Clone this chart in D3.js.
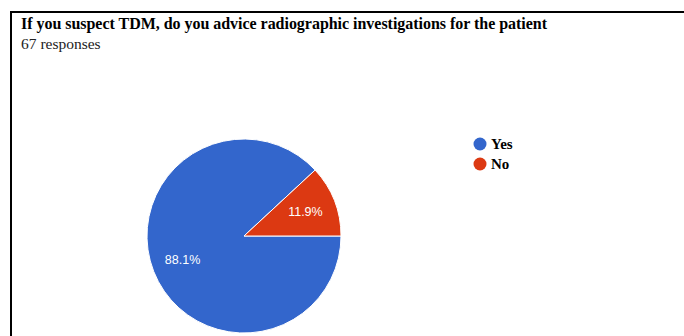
<!DOCTYPE html>
<html>
<head>
<meta charset="utf-8">
<script src="https://cdn.jsdelivr.net/npm/d3@7"></script>
<style>
body{margin:0;background:#fff;}
</style>
</head>
<body>
<script>
const w=684;
const h=336;

// chart data
const title="If you suspect TDM, do you advice radiographic investigations for the patient";
const subtitle="67 responses";
const categories=["Yes","No"];
const values=[88.1,11.9];
const colors=["#3366cc","#dc3912"];

let svg=d3.select("body")
  .append("svg")
  .attr("width",w)
  .attr("height",h);

svg.append("rect").attr("width",w).attr("height",h).attr("fill","#fff");

// frame (top + left edge)
svg.append("path")
  .attr("d","M11,"+h+"V12H"+w)
  .attr("fill","none")
  .attr("stroke","#000")
  .attr("stroke-width",2);

svg.append("text")
  .attr("x",21)
  .attr("y",29)
  .attr("textLength",526)
  .style("font-family","'Liberation Serif', serif")
  .style("font-weight","bold")
  .style("font-size","16px")
  .text(title);

svg.append("text")
  .attr("x",21)
  .attr("y",49)
  .style("font-family","'Liberation Serif', serif")
  .style("font-size","15.5px")
  .style("fill","#222")
  .text(subtitle);

// pie
const cx=244, cy=236, r=97;
let data=categories.map((c,i)=>({name:c,value:values[i]}));

let pie=d3.pie()
  .sort(null)
  .value(d=>d.value)
  .startAngle(Math.PI/2)
  .endAngle(Math.PI/2+2*Math.PI);

let arc=d3.arc().innerRadius(0).outerRadius(r);
let color=d3.scaleOrdinal().domain(categories).range(colors);

let g=svg.append("g").attr("transform","translate("+cx+","+cy+")");

let arcs=pie(data);

g.selectAll("path")
  .data(arcs)
  .enter()
  .append("path")
  .attr("d",arc)
  .attr("fill",d=>color(d.data.name))
  .attr("stroke","#fff")
  .attr("stroke-width",1);

// label positions
let labelArc=d3.arc().innerRadius(r*0.68).outerRadius(r*0.68);

g.selectAll("text")
  .data(arcs)
  .enter()
  .append("text")
  .attr("transform",d=>{
    let p=labelArc.centroid(d);
    if(d.data.name==="Yes"){ p=labelArc.centroid({startAngle:4.34,endAngle:4.34}); }
    return "translate("+p[0]+","+p[1]+")";
  })
  .attr("text-anchor","middle")
  .attr("dy","0.35em")
  .style("font-family","'Liberation Sans', Arial, sans-serif")
  .style("font-size","12.5px")
  .style("fill","#fff")
  .text(d=>d.data.value.toFixed(1)+"%");

// legend
let legend=svg.append("g").attr("transform","translate(480,144)");

let item=legend.selectAll("g")
  .data(categories)
  .enter()
  .append("g")
  .attr("transform",(d,i)=>"translate(0,"+(i*20)+")");

item.append("circle")
  .attr("r",6.5)
  .attr("fill",d=>color(d));

item.append("text")
  .attr("x",11)
  .attr("y",5)
  .style("font-family","'Liberation Serif', serif")
  .style("font-weight","bold")
  .style("font-size","15px")
  .text(d=>d);
</script>
</body>
</html>
